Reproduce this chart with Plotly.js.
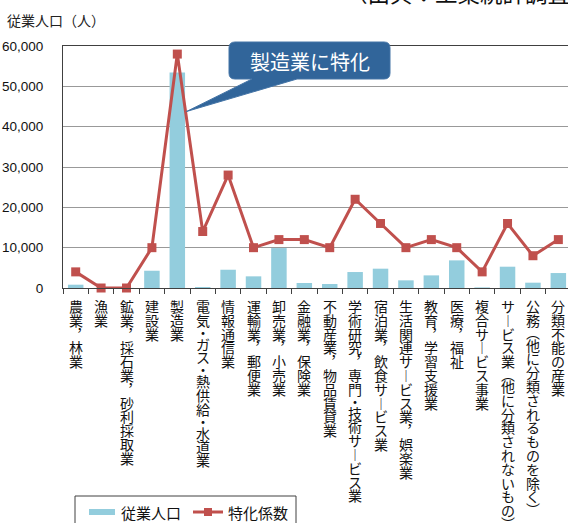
<!DOCTYPE html>
<html>
<head>
<meta charset="utf-8">
<script src="https://cdn.plot.ly/plotly-3.0.1.min.js"></script>
<style>
html,body{margin:0;padding:0;background:#fff;}
#chart{width:568px;height:523px;}
</style>
</head>
<body>
<div id="chart"></div>
<script>
// ---- data ----
const categories = ["農業，林業","漁業","鉱業，採石業，砂利採取業","建設業","製造業","電気・ガス・熱供給・水道業","情報通信業","運輸業，郵便業","卸売業，小売業","金融業，保険業","不動産業，物品賃貸業","学術研究，専門・技術サービス業","宿泊業，飲食サービス業","生活関連サービス業，娯楽業","教育，学習支援業","医療，福祉","複合サービス事業","サービス業（他に分類されないもの）","公務（他に分類されるものを除く）","分類不能の産業"];
const employees = [820, 30, 20, 4280, 53460, 250, 4530, 2890, 9900, 1240, 990, 3960, 4790, 1900, 3130, 6850, 150, 5280, 1320, 3710];
const coefficients = [0.2, 0.0, 0.0, 0.5, 2.9, 0.7, 1.4, 0.5, 0.6, 0.6, 0.5, 1.1, 0.8, 0.5, 0.6, 0.5, 0.2, 0.8, 0.4, 0.6];
const seriesNames = ["従業人口", "特化係数"];
const yTitle = "従業人口（人）";
const sourceText = "（出典：工業統計調査）";
const calloutText = "製造業に特化";

// ---- layout helpers ----
const L = 63, T = 46, W = 505, H = 242;
const px = x => (x - L) / W;
const py = y => (T + H - y) / H;
const CJK = "'Noto Sans CJK JP', 'Noto Sans', sans-serif";
const barColor = "#93CDDD", lineColor = "#C0504D";

const traces = [
  {type:"bar", x:categories, y:employees, name:seriesNames[0], marker:{color:barColor}, showlegend:false},
  {type:"scatter", mode:"lines+markers", x:categories, y:coefficients, yaxis:"y2", name:seriesNames[1],
   line:{color:lineColor, width:3}, marker:{symbol:"square", size:9, color:lineColor}, cliponaxis:false, showlegend:false}
];

// vertical category labels (characters stacked top to bottom)
const vmap = {"，":"︐","ー":"︱","（":"︵","）":"︶"};
const advance = ch => ch === "・" ? 10 : (ch === "（" || ch === "）") ? 11 : 13.8;
const annotations = [];
categories.forEach(cat => {
  let off = 0, prev = null;
  [...cat].forEach(ch => {
    const adv = advance(ch);
    if (prev !== null) off += (prev + adv) / 2;
    prev = adv;
    annotations.push({x:cat, xref:"x", y:0, yref:"y", yshift:-(18 + off), text:vmap[ch] || ch, borderpad:0,
      showarrow:false, xanchor:"center", yanchor:"middle", font:{family:CJK, size:14, color:"#111"}});
  });
});

// titles / callout / legend text
annotations.push({xref:"paper", yref:"paper", x:px(5), y:py(20), xanchor:"left", yanchor:"middle", showarrow:false,
  text:yTitle, font:{family:CJK, size:14, color:"#222"}});
annotations.push({xref:"paper", yref:"paper", x:px(343), y:py(-8), xanchor:"left", yanchor:"middle", showarrow:false,
  text:sourceText, font:{family:CJK, size:22.5, color:"#111"}});
annotations.push({xref:"paper", yref:"paper", x:px(309.5), y:py(61), xanchor:"center", yanchor:"middle", showarrow:false,
  text:calloutText, font:{family:CJK, size:20, color:"#ffffff"}});
annotations.push({xref:"paper", yref:"paper", x:px(119), y:py(512), xanchor:"left", yanchor:"middle", showarrow:false,
  text:seriesNames[0], font:{family:CJK, size:15, color:"#111"}});
annotations.push({xref:"paper", yref:"paper", x:px(226), y:py(512), xanchor:"left", yanchor:"middle", showarrow:false,
  text:seriesNames[1], font:{family:CJK, size:15, color:"#111"}});

// callout path
const r = 6, bx0 = 229, bx1 = 390, by0 = 42, by1 = 79;
const P = (x, y) => px(x) + "," + py(y);
const calloutPath = "M" + P(bx0 + r, by0) + " L" + P(bx1 - r, by0) + " Q" + P(bx1, by0) + " " + P(bx1, by0 + r) +
  " L" + P(bx1, by1 - r) + " Q" + P(bx1, by1) + " " + P(bx1 - r, by1) +
  " L" + P(297, by1) + " L" + P(186.5, 111.5) + " L" + P(252, by1) +
  " L" + P(bx0 + r, by1) + " Q" + P(bx0, by1) + " " + P(bx0, by1 - r) +
  " L" + P(bx0, by0 + r) + " Q" + P(bx0, by0) + " " + P(bx0 + r, by0) + " Z";

const shapes = [
  {type:"path", xref:"paper", yref:"paper", path:calloutPath, fillcolor:"#31659A", line:{color:"#4474a6", width:1}, layer:"above"},
  // legend box
  {type:"rect", xref:"paper", yref:"paper", x0:px(75), x1:px(296), y0:py(496), y1:py(540), fillcolor:"#fff", line:{color:"#404040", width:1}, layer:"above"},
  {type:"rect", xref:"paper", yref:"paper", x0:px(89), x1:px(115), y0:py(509), y1:py(515), fillcolor:barColor, line:{width:0}, layer:"above"},
  {type:"line", xref:"paper", yref:"paper", x0:px(193), x1:px(223), y0:py(512), y1:py(512), line:{color:lineColor, width:3}, layer:"above"},
  {type:"rect", xref:"paper", yref:"paper", x0:px(204), x1:px(212), y0:py(508), y1:py(516), fillcolor:lineColor, line:{width:0}, layer:"above"}
];

const layout = {
  width:568, height:523,
  margin:{l:L, r:0, t:T, b:523 - T - H, autoexpand:false},
  paper_bgcolor:"#fff", plot_bgcolor:"#fff",
  font:{family:CJK, size:13, color:"#111"},
  bargap:0.39,
  showlegend:false,
  xaxis:{type:"category", categoryorder:"array", categoryarray:categories, range:[-0.5, 19.38],
    showticklabels:false, ticks:"outside", tickson:"boundaries", ticklen:5, tickcolor:"#404040",
    showline:true, linecolor:"#404040", linewidth:1, mirror:true, showgrid:false, zeroline:false, fixedrange:true},
  yaxis:{range:[0, 60000], dtick:10000, tickformat:",d", showgrid:true, gridcolor:"#999999", gridwidth:1,
    showline:true, linecolor:"#404040", linewidth:1, zeroline:false, ticks:"", ticklabelstandoff:16,
    tickfont:{family:"'Liberation Sans', Arial, sans-serif", size:13.5, color:"#111"}, fixedrange:true},
  yaxis2:{overlaying:"y", range:[0, 3], visible:false, showgrid:false, zeroline:false},
  annotations:annotations,
  shapes:shapes
};

Plotly.newPlot("chart", traces, layout, {displayModeBar:false, staticPlot:true});
</script>
</body>
</html>
